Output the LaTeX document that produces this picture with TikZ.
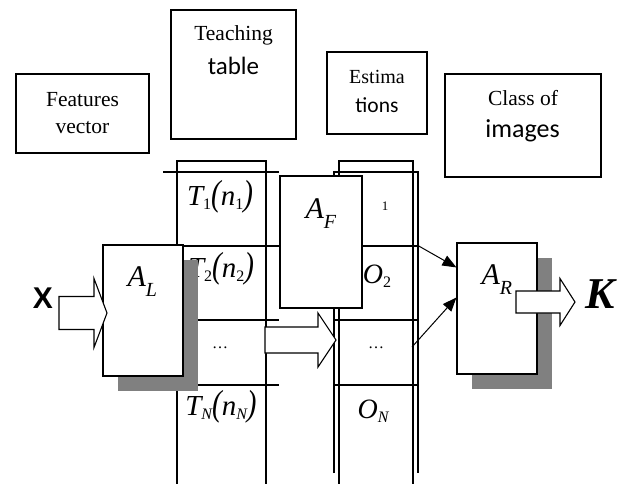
\documentclass[tikz,border=0pt]{standalone}
\usepackage{fontspec}
\usepackage{graphicx}
\setmainfont{Liberation Serif}
\newfontfamily\calib{Carlito}
\newfontfamily\arialf{Liberation Sans}
\usetikzlibrary{arrows.meta,shadows,calc}
\definecolor{shadowgray}{RGB}{128,128,128}
\newcommand\fs[1]{\fontsize{#1}{#1}\selectfont}
\newcommand\lowsub[3]{\raisebox{-#1}{\fs{#2}#3}}
\newcommand\tallp[1]{\scalebox{1}[1.25]{#1}}
\newcommand\blockarrow[5]{%
  \draw[line width=1.1pt, fill=white, line join=miter] let \p1=(#1), \p2=(#2) in
   (\x1,\y2+#3) -- (\x2-#5,\y2+#3) -- (\x2-#5,\y2+#4) -- (\x2,\y2) --
   (\x2-#5,\y2-#4) -- (\x2-#5,\y2-#3) -- (\x1,\y2-#3) -- cycle;}
\begin{document}
\begin{tikzpicture}[x=1pt,y=-1pt,line width=1.1pt,
  box/.style={draw, rectangle, inner sep=0pt, fill=white},
  lbl/.style={inner sep=0pt, anchor=base},
  shad/.style={general shadow={fill=shadowgray, shadow xshift=15pt, shadow yshift=-15pt}},
  thin/.style={line width=1pt, -{Triangle[length=14pt,width=11pt]}}]
\useasboundingbox (0,0) rectangle (622,483);

% title boxes
\node[box, minimum width=133pt, minimum height=79pt] (fv) at (82.5,113.5) {};
\node[lbl] (fv1) at (82.5,106) {\fs{21.5}Features};
\node[lbl] (fv2) at (82.5,133) {\fs{21.5}vector};

\node[box, minimum width=125pt, minimum height=129pt] (tt) at (233.5,74.5) {};
\node[lbl] (tt1) at (233.5,40) {\fs{21.5}Teaching};
\node[lbl] (tt2) at (233.5,74) {\calib\fs{25}table};

\node[box, minimum width=100pt, minimum height=82pt] (es) at (377,93) {};
\node[lbl] (es1) at (377,83) {\fs{20}Estima};
\node[lbl] (es2) at (377,112) {\calib\fs{21.5}tions};

\node[box, minimum width=156pt, minimum height=103pt] (ci) at (523,125.5) {};
\node[lbl] (ci1) at (523,105) {\fs{21.5}Class of};
\node[lbl] (ci2) at (522.5,137) {\calib\fs{26}images};

% teaching column
\draw (177,490) -- (177,161) -- (266,161) -- (266,490);
\draw (163,172) -- (279,172);
\draw (163,246) -- (279,246);
\draw (163,320) -- (279,320);
\draw (163,385) -- (279,385);

% estimations column
\draw (339,490) -- (339,161) -- (413,161) -- (413,490);
\draw (334,473) -- (334,172) -- (418,172) -- (418,473);
\draw (334,246) -- (418,246);
\draw (334,320) -- (418,320);
\draw (334,385) -- (418,385);

% column texts
\node[lbl] (t1) at (220,205) {\fs{29}\itshape T\lowsub{4pt}{16}{\upshape 1}\tallp{(}n\lowsub{4pt}{16}{\upshape 1}\tallp{)}};
\node[lbl] (t2) at (221,277) {\fs{29}\itshape T\lowsub{4pt}{16}{\upshape 2}\tallp{(}n\lowsub{4pt}{16}{\upshape 2}\tallp{)}};
\node[lbl] (td) at (220,348) {\fs{16}\dots};
\node[lbl] (tn) at (221,415) {\fs{29}\itshape T\lowsub{4pt}{16}{N}\tallp{(}n\lowsub{4pt}{16}{N}\tallp{)}};
\node[lbl] (o1) at (385,210) {\fs{13}1};
\node[lbl] (o2) at (377,283) {\fs{28}\itshape O\lowsub{4pt}{16}{\upshape 2}};
\node[lbl] (od) at (376,348) {\fs{16}\dots};
\node[lbl] (on) at (373,418) {\fs{28}\itshape O\lowsub{4pt}{16}{N}};

% middle block arrow
\coordinate (ms) at (265,340);
\coordinate (mt) at (336,340);
\blockarrow{ms}{mt}{13pt}{27pt}{18pt}

% A_F
\node[box, minimum width=82pt, minimum height=132pt] (AF) at (321,242) {};
\node[lbl, anchor=base west] (afl) at (305,218) {\fs{30}\itshape A\lowsub{10pt}{20}{F}};

% A_L
\node[box, shad, minimum width=80pt, minimum height=131pt] (AL) at (143,310.5) {};
\node[lbl, anchor=base west] (all) at (127,286) {\fs{30}\itshape A\lowsub{10pt}{20}{L}};

% X arrow
\node[lbl] (xl) at (43,308) {\arialf\bfseries\fs{30}X};
\coordinate (xs) at (59,313);
\coordinate (xt) at (107,313);
\blockarrow{xs}{xt}{16.5pt}{34.5pt}{13pt}

% A_R
\node[box, shad, minimum width=80pt, minimum height=131pt] (AR) at (497,308.5) {};
\node[lbl, anchor=base west] (arl) at (481,284) {\fs{30}\itshape A\lowsub{10pt}{20}{R}};

% K arrow
\coordinate (ks) at (516,302);
\coordinate (kt) at (575,302);
\blockarrow{ks}{kt}{11pt}{23.5pt}{15pt}
\node[lbl, anchor=base west] (kl) at (585,308) {\fs{44}\bfseries\itshape K};

% thin arrows
\coordinate (a1) at (417,245);
\coordinate (a2) at (412,347);
\draw[thin] (a1) -- ($(AR.north west)+(0,25)$);
\draw[thin] (a2) -- ($(AR.north west)+(0,55)$);
\end{tikzpicture}
\end{document}
